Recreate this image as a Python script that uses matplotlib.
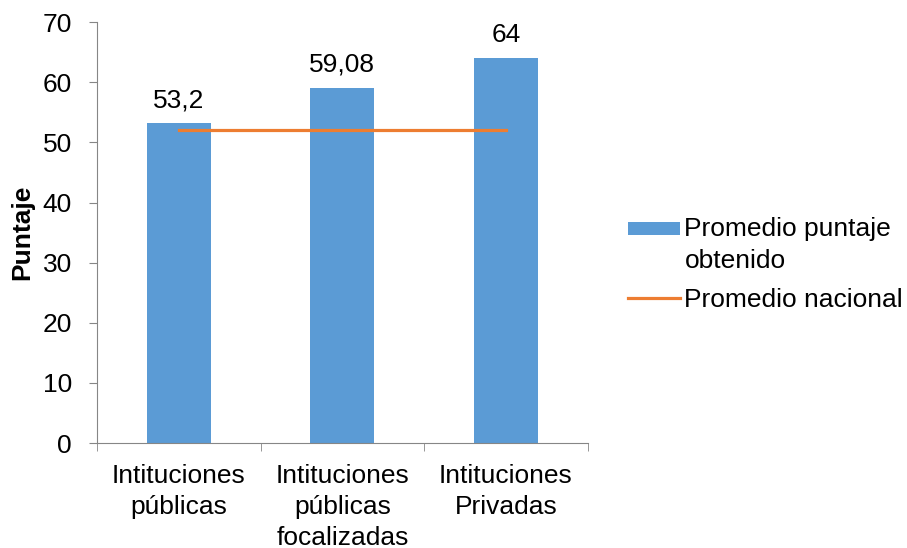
import matplotlib as mpl
mpl.use('Agg')
import matplotlib.pyplot as plt
import matplotlib.patches as mpatches
from matplotlib.legend_handler import HandlerPatch
import numpy as np

categorias = ['Intituciones\npúblicas', 'Intituciones\npúblicas\nfocalizadas', 'Intituciones\nPrivadas']
puntaje = [53.2, 59.08, 64]
etiquetas = ['53,2', '59,08', '64']
nacional = [52, 52, 52]
series = ['Promedio puntaje\nobtenido', 'Promedio nacional']

plt.rcParams['font.family'] = ['Liberation Sans', 'DejaVu Sans']

fig = plt.figure(figsize=(9.07, 5.48), dpi=100)
ax = fig.add_axes([0.107, 0.1916, 0.541, 0.768])

x = np.arange(len(categorias))
bars = ax.bar(x, puntaje, width=0.39, color='#5B9BD5', label=series[0], zorder=2)
linea, = ax.plot(x, nacional, color='#ED7D31', linewidth=2.3, label=series[1], zorder=3)

for b, t in zip(bars, etiquetas):
    ax.annotate(t, (b.get_x() + b.get_width() / 2, b.get_height()), xytext=(0, 8),
                textcoords='offset points', ha='center', va='bottom', fontsize=19)

ax.set_xlim(-0.5, 2.5)
ax.set_ylim(0, 70)
ax.set_yticks(range(0, 71, 10))
ax.set_xticks(x)
ax.set_xticklabels(categorias, fontsize=19, va='top', linespacing=1.36)
ax.set_xticks([-0.5, 0.5, 1.5, 2.5], minor=True)
ax.tick_params(axis='x', which='major', length=0, pad=15)
ax.tick_params(axis='x', which='minor', length=6, color='#868686')
ax.tick_params(axis='y', labelsize=19, length=6, color='#868686', pad=12)

for s in ['top', 'right']:
    ax.spines[s].set_visible(False)
for s in ['left', 'bottom']:
    ax.spines[s].set_color('#868686')

# y label placed in figure coords like the original
fig.text(22 / 907, 1 - 232 / 548, 'Puntaje', rotation=90, ha='center', va='center',
         fontsize=19, fontweight='bold')


def barra_arriba(legend, orig_handle, xdescent, ydescent, width, height, fontsize):
    # patch sits on the first line of the two-line label
    return mpatches.Rectangle((-xdescent, -ydescent + height / 2 - 4.5 + 12), width, 9)


h_bar = bars.patches[0]
leg = fig.legend([h_bar, linea], series, loc='center left', bbox_to_anchor=(0.6775, 0.517),
                 frameon=False, fontsize=19, handlelength=2.0, handletextpad=0.15,
                 labelspacing=0.58, borderpad=0,
                 handler_map={h_bar: HandlerPatch(patch_func=barra_arriba)})
for t in leg.get_texts():
    t.set_linespacing(1.4)

fig.savefig('out.png', dpi=100)
